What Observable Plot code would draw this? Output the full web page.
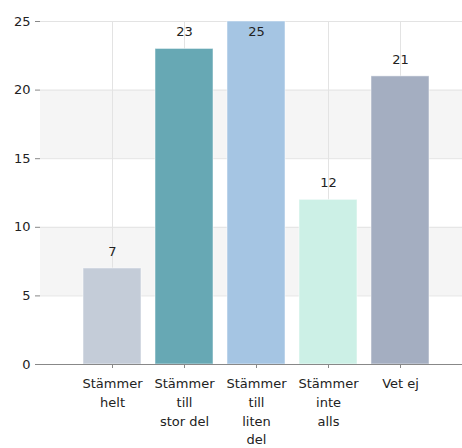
<!DOCTYPE html>
<html>
<head>
<meta charset="utf-8">
<script src="https://cdn.jsdelivr.net/npm/d3@7"></script>
<script src="https://cdn.jsdelivr.net/npm/@observablehq/plot@0.6"></script>
<style>
  html, body { margin: 0; padding: 0; background: #fff; }
  svg { display: block; }
</style>
</head>
<body>
<div id="chart"></div>
<script>
const categories = ["Stämmer helt", "Stämmer till stor del", "Stämmer till liten del", "Stämmer inte alls", "Vet ej"];
const tickLabels = ["Stämmer\nhelt", "Stämmer\ntill\nstor del", "Stämmer\ntill\nliten\ndel", "Stämmer\ninte\nalls", "Vet ej"];
const values = [7, 23, 25, 12, 21];
const colors = ["#c4ccd8", "#67a8b4", "#a5c5e3", "#ccf0e6", "#a4aec1"];
const yTicks = [0, 5, 10, 15, 20, 25];
const bandLow = [5, 15];
const bandHigh = [10, 20];

const data = categories.map((c, i) => ({cat: c, value: values[i], color: colors[i], label: tickLabels[i]}));
const bands = bandLow.map((lo, i) => ({lo, hi: bandHigh[i]}));
const yMax = d3.max(values);

const font = "DejaVu Sans, sans-serif";

const chart = Plot.plot({
  width: 462,
  height: 448,
  marginTop: 21,
  marginBottom: 84,
  marginLeft: 40,
  marginRight: 0,
  style: {fontFamily: font, fontSize: "13px", color: "#222", background: "#fff"},
  x: {domain: categories, paddingInner: 0.2, paddingOuter: 0.51, align: 0.568, label: null},
  y: {domain: [0, 25], label: null},
  marks: [
    Plot.rect(bands, {y1: "lo", y2: "hi", fill: "#f5f5f5"}),
    Plot.gridY(yTicks, {stroke: "#e3e3e3", strokeOpacity: 1}),
    Plot.gridX(categories, {stroke: "#e3e3e3", strokeOpacity: 1}),
    Plot.barY(data, {x: "cat", y: "value", fill: "color", stroke: "#ffffff", strokeOpacity: 0.5}),
    Plot.text(data.filter(d => d.value < yMax), {x: "cat", y: "value", text: d => String(d.value), dy: -17, fill: "#222", fontSize: 13}),
    Plot.text(data.filter(d => d.value >= yMax), {x: "cat", y: "value", text: d => String(d.value), dy: 10, fill: "#222", fontSize: 13}),
    Plot.axisY(yTicks, {tickSize: 5, tickPadding: 5, stroke: "#888", fill: "#222", fontSize: 13, label: null}),
    Plot.ruleX([0], {frameAnchor: "left", stroke: "#999", y1: 0, y2: 25, insetBottom: -4}),
    Plot.axisX({tickSize: 4, tickPadding: 6, stroke: "#888", fill: "#222", fontSize: 13, lineHeight: 1.45,
      tickFormat: (c) => tickLabels[categories.indexOf(c)], label: null}),
    Plot.ruleY([0], {stroke: "#888", insetLeft: -3})
  ]
});
document.getElementById("chart").appendChild(chart);
</script>
</body>
</html>
